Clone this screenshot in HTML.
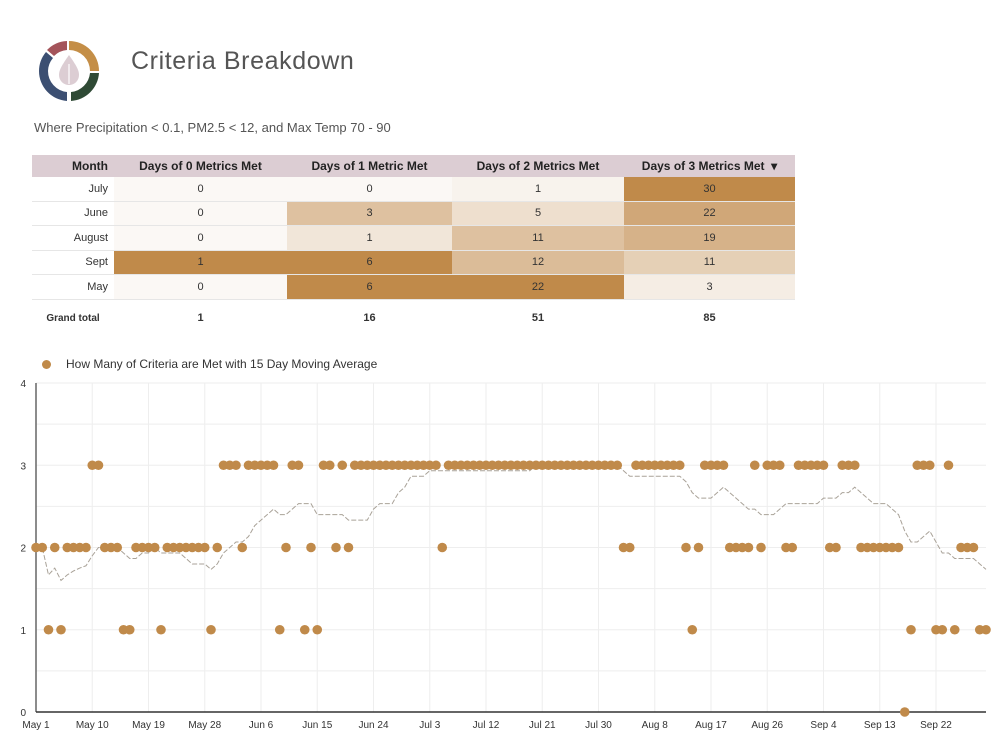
<!DOCTYPE html>
<html><head><meta charset="utf-8"><style>
body{margin:0;width:1000px;height:748px;background:#fff;font-family:"Liberation Sans",sans-serif;position:relative;overflow:hidden}
.abs{position:absolute}
table{border-collapse:collapse;position:absolute;left:32px;top:155px;font-size:11px;color:#333;table-layout:fixed}
td,th{padding:0;text-align:center}
th{background:#dccdd3;height:22px;font-weight:bold;font-size:12px;color:#222}
td{height:23.5px;border-bottom:1px solid #e6e6e6}
td.m{text-align:right;padding-right:6px}
tr.tot td{border:none;height:37px;font-weight:bold;padding-top:0}
</style></head><body>
<svg class="abs" style="left:34px;top:36px" width="70" height="70" viewBox="0 0 70 70">
<path d="M35 5 A30 30 0 0 1 65 35 L56 35 A21 21 0 0 0 35 14Z" fill="#c48e47"/>
<path d="M65 37 A30 30 0 0 1 37 65 L37 56 A21 21 0 0 0 56 37Z" fill="#2f4a35"/>
<path d="M33 65 A30 30 0 0 1 5 35 A30 30 0 0 1 12 16 L19 22 A21 21 0 0 0 14 35 A21 21 0 0 0 33 56Z" fill="#3c4f72"/>
<path d="M13 14 A30 30 0 0 1 33 5 L33 14 A21 21 0 0 0 20 20Z" fill="#a4545a"/>
<path d="M35 19 C28 29 25 34 25 39 A10 10 0 0 0 45 39 C45 34 42 29 35 19Z" fill="#dccdd3"/>
<line x1="35" y1="28" x2="35" y2="48" stroke="#fff" stroke-width="1.2"/>
</svg>
<div class="abs" style="left:131px;top:47px;font-size:25px;color:#555;letter-spacing:0.6px">Criteria Breakdown</div>
<div class="abs" style="left:34px;top:120px;font-size:13px;color:#555">Where Precipitation &lt; 0.1, PM2.5 &lt; 12, and Max Temp 70 - 90</div>
<table id="tbl">
<colgroup><col style="width:82px"><col style="width:173px"><col style="width:165px"><col style="width:172px"><col style="width:171px"></colgroup>
<tr><th style="text-align:right;padding-right:6px">Month</th><th>Days of 0 Metrics Met</th><th>Days of 1 Metric Met</th><th>Days of 2 Metrics Met</th><th>Days of 3 Metrics Met &nbsp;▾</th></tr>
</table>
<div class="abs" style="left:42px;top:357px;font-size:12px;color:#333">
<span style="display:inline-block;width:9px;height:9px;border-radius:50%;background:#c08a4a;vertical-align:-1px;margin-right:15px"></span>How Many of Criteria are Met with 15 Day Moving Average</div>
<svg class="abs" id="chart" style="left:0;top:0" width="1000" height="748"></svg>
<script>
const months=["July","June","August","Sept","May"];
const col0=[0,0,0,1,0];
const col1=[0,3,1,6,6];
const col2=[1,5,11,12,22];
const col3=[30,22,19,11,3];
const totals=[1,16,51,85];
const cols=[col0,col1,col2,col3];
const tbl=document.getElementById('tbl');
function heat(v,mx){const t=mx?v/mx:0;const a=[251,248,245],b=[192,138,74];return 'rgb('+a.map((c,i)=>Math.round(c+(b[i]-c)*t)).join(',')+')';}
months.forEach((m,r)=>{const tr=document.createElement('tr');


let h='<td class="m">'+m+'</td>';
cols.forEach(c=>{const mx=Math.max(...c);h+='<td style="background:'+heat(c[r],mx)+'">'+c[r]+'</td>';});
tr.innerHTML=h;tbl.appendChild(tr);});
const tt=document.createElement('tr');tt.className='tot';


tt.innerHTML='<td style="font-size:10px">Grand total</td>'+totals.map(v=>'<td>'+v+'</td>').join('');
tbl.appendChild(tt);

// daily criteria met, May 1 .. Sep 30
const values=[2,2,1,2,1,2,2,2,2,3,3,2,2,2,1,1,2,2,2,2,1,2,2,2,2,2,2,2,1,2,
3,3,3,2,3,3,3,3,3,1,2,3,3,1,2,1,3,3,2,3,2,
3,3,3,3,3,3,3,3,3,3,3,3,3,3,2,
3,3,3,3,3,3,3,3,3,3,3,3,3,3,3,3,3,3,3,3,3,3,3,3,3,3,3,3,2,2,
3,3,3,3,3,3,3,3,2,1,2,3,3,3,3,2,2,2,2,3,2,3,3,3,2,2,3,3,3,3,3,2,2,3,3,3,
2,2,2,2,2,2,2,0,1,3,3,3,1,1,3,1,2,2,2,1,1];
const xTicks=["May 1","May 10","May 19","May 28","Jun 6","Jun 15","Jun 24","Jul 3","Jul 12","Jul 21","Jul 30","Aug 8","Aug 17","Aug 26","Sep 4","Sep 13","Sep 22"];
const yTicks=[0,1,2,3,4];
const X0=36,X1=986,Y0=712,Y1=383,N=153;
const xs=d=>X0+d*(X1-X0)/(N-1);
const ys=v=>Y0-v*(Y0-Y1)/4;
const svg=document.getElementById('chart');const NS='http://www.w3.org/2000/svg';
function mk(t,a,p){const e=document.createElementNS(NS,t);for(const k in a)e.setAttribute(k,a[k]);(p||svg).appendChild(e);return e;}
for(let v=0;v<=4;v+=0.5){if(v>0){const g=mk('line',{x1:X0,x2:X1,y1:ys(v),y2:ys(v),stroke:'#eeeeee'});

}}
yTicks.forEach(v=>{const t=mk('text',{x:26,y:ys(v)+4,'font-size':10,fill:'#333','text-anchor':'end'});t.textContent=v;

});
xTicks.forEach((s,i)=>{const x=xs(i*9);
if(i>0){const g=mk('line',{x1:x,x2:x,y1:Y1,y2:Y0,stroke:'#eeeeee'});

}
const t=mk('text',{x:x,y:728,'font-size':10,fill:'#333','text-anchor':'middle'});t.textContent=s;

});
const ya=mk('line',{x1:X0,x2:X0,y1:Y1,y2:Y0,stroke:'#666','stroke-width':1.5});


const xa=mk('line',{x1:X0,x2:X1,y1:Y0,y2:Y0,stroke:'#333','stroke-width':1.5});


let pts=[];values.forEach((v,d)=>{const s=values.slice(Math.max(0,d-14),d+1);const m=s.reduce((a,b)=>a+b,0)/s.length;pts.push(xs(d)+','+ys(m));});
const ln=mk('polyline',{points:pts.join(' '),fill:'none',stroke:'#a9a298','stroke-width':1,'stroke-dasharray':'5,2'});


values.forEach((v,d)=>{const c=mk('circle',{cx:xs(d),cy:ys(v),r:4.8,fill:'#c08a4a'});

});
</script>
</body></html>
